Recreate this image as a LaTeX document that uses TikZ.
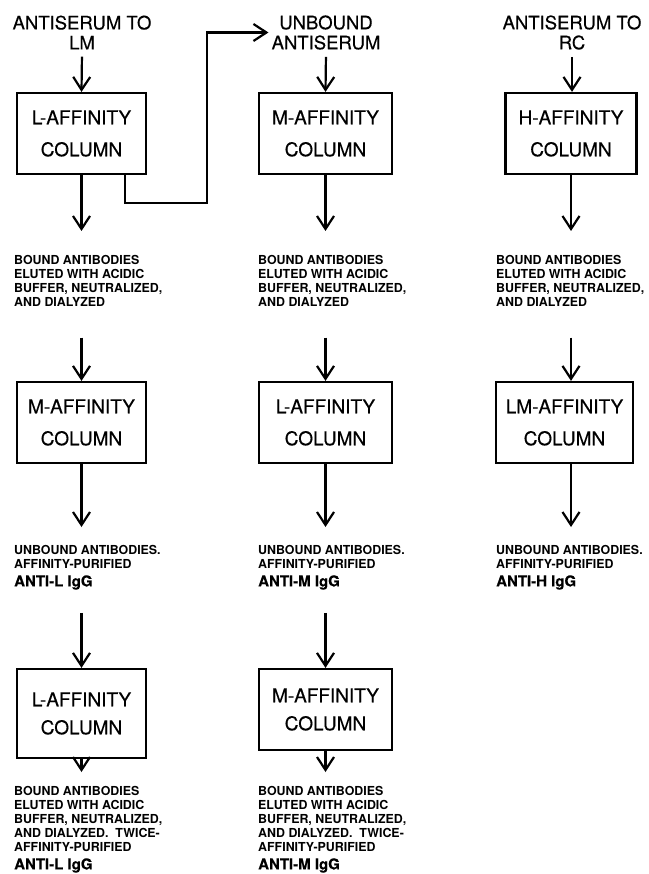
\documentclass[tikz,border=0pt]{standalone}
\usepackage{fontspec}
\setmainfont{TeX Gyre Heros}
\newfontfamily\heavyfont[FakeBold=0.4]{TeX Gyre Heros}
\usetikzlibrary{arrows.meta}
\begin{document}
\begin{tikzpicture}[x=1pt,y=-1pt,
  colbox/.style={draw, line width=2.2pt, inner sep=0pt, align=center,
    font=\heavyfont\fontsize{19}{32}\selectfont},
  colboxb/.style={colbox, font=\heavyfont\fontsize{19}{28}\selectfont},
  arr/.style={line width=2.2pt, -{Straight Barb[length=13pt,width=17pt,line width=2.2pt]}},
  head/.style={align=center, inner sep=3pt, font=\heavyfont\fontsize{18.5}{20}\selectfont},
  note/.style={align=left, anchor=north west, inner sep=0pt,
    font=\bfseries\fontsize{12.4}{14}\selectfont}
]
\useasboundingbox (0,0) rectangle (648,874);
\newcommand{\bigig}[1]{{\heavyfont\fontsize{15}{18}\selectfont #1}}

% headings
\node[head] (t1) at (82,32.5) {ANTISERUM TO\\LM};
\node[head] (t2) at (326,32.5) {UNBOUND\\ANTISERUM};
\node[head] (t3) at (572,32.5) {ANTISERUM TO\\RC};

% row 1 boxes
\node[colbox, minimum width=129pt, minimum height=81pt] (b11) at (81.5,133.5) {L-AFFINITY\\COLUMN};
\node[colbox, minimum width=133pt, minimum height=81pt] (b12) at (325.5,133.5) {M-AFFINITY\\COLUMN};
\node[colbox, minimum width=131pt, minimum height=81pt] (b13) at (571,133.5) {H-AFFINITY\\COLUMN};

% row 1 notes
\node[note] (o11) at (14,255) {BOUND ANTIBODIES\\ELUTED WITH ACIDIC\\BUFFER, NEUTRALIZED,\\AND DIALYZED};
\node[note] (o12) at (258,255) {BOUND ANTIBODIES\\ELUTED WITH ACIDIC\\BUFFER, NEUTRALIZED,\\AND DIALYZED};
\node[note] (o13) at (496,255) {BOUND ANTIBODIES\\ELUTED WITH ACIDIC\\BUFFER, NEUTRALIZED,\\AND DIALYZED};

% row 2 boxes
\node[colbox, minimum width=129pt, minimum height=81pt] (b21) at (81.5,422.5) {M-AFFINITY\\COLUMN};
\node[colbox, minimum width=133pt, minimum height=81pt] (b22) at (325.5,422.5) {L-AFFINITY\\COLUMN};
\node[colbox, minimum width=137pt, minimum height=81pt] (b23) at (564.5,422.5) {LM-AFFINITY\\COLUMN};

% row 2 notes
\node[note] (o21) at (14,545) {UNBOUND ANTIBODIES.\\AFFINITY-PURIFIED\\[4pt]\bigig{ANTI-L IgG}};
\node[note] (o22) at (258,545) {UNBOUND ANTIBODIES.\\AFFINITY-PURIFIED\\[4pt]\bigig{ANTI-M IgG}};
\node[note] (o23) at (496,545) {UNBOUND ANTIBODIES.\\AFFINITY-PURIFIED\\[4pt]\bigig{ANTI-H IgG}};

% row 3 boxes
\node[colboxb, minimum width=129pt, minimum height=89pt] (b31) at (81.5,713.5) {L-AFFINITY\\COLUMN};
\node[colboxb, minimum width=133pt, minimum height=81pt] (b32) at (325.5,709.5) {M-AFFINITY\\COLUMN};

% row 3 notes
\node[note] (o31) at (14,786) {BOUND ANTIBODIES\\ELUTED WITH ACIDIC\\BUFFER, NEUTRALIZED,\\AND DIALYZED.\ \ TWICE-\\AFFINITY-PURIFIED\\[4pt]\bigig{ANTI-L IgG}};
\node[note] (o32) at (258,786) {BOUND ANTIBODIES\\ELUTED WITH ACIDIC\\BUFFER, NEUTRALIZED,\\AND DIALYZED.\ \ TWICE-\\AFFINITY-PURIFIED\\[4pt]\bigig{ANTI-M IgG}};

\coordinate (br) at (207,203);

% connectors: top
\draw[arr, shorten <=4pt] (t1.south) -- (b11.north);
\draw[arr, shorten <=4pt] (t2.south) -- (b12.north);
\draw[arr, shorten <=4pt] (t3.south) -- (t3.south |- b13.north);
% branch
\draw[arr] ([xshift=43.5pt]b11.south) |- (br) |- (t2.west);

% row 1 out
\draw[arr, shorten >=24pt] (b11.south) -- (b11.south |- o11.north);
\draw[arr, shorten >=24pt] (b12.south) -- (b12.south |- o12.north);
\draw[arr, shorten >=24pt] (b13.south) -- (b13.south |- o13.north);

% row 2 in
\draw[arr, shorten <=31pt] (b21.north |- o11.south) -- (b21.north);
\draw[arr, shorten <=31pt] (b22.north |- o12.south) -- (b22.north);
\draw[arr, shorten <=31pt] (b13.south |- o13.south) -- (b13.south |- b23.north);

% row 2 out
\draw[arr, shorten >=18pt] (b21.south) -- (b21.south |- o21.north);
\draw[arr, shorten >=18pt] (b22.south) -- (b22.south |- o22.north);
\draw[arr, shorten >=18pt] (b13.south |- b23.south) -- (b13.south |- o23.north);

% row 3 in
\draw[arr, shorten <=23pt] (b31.north |- o21.south) -- (b31.north);
\draw[arr, shorten <=23pt] (b32.north |- o22.south) -- (b32.north);

% row 3 out
\draw[arr, shorten >=14pt] (b31.south) -- (b31.south |- o31.north);
\draw[arr, shorten >=14pt] (b32.south) -- (b32.south |- o32.north);
\end{tikzpicture}
\end{document}
